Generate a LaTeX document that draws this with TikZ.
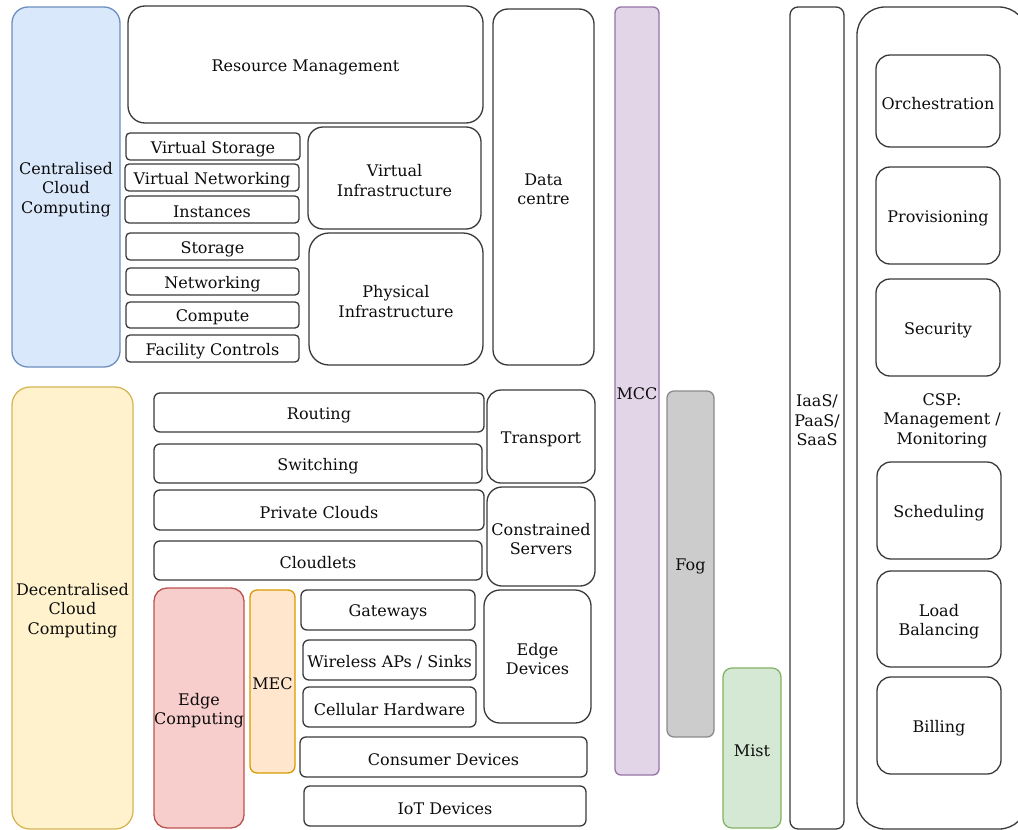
\documentclass[tikz,border=0pt]{standalone}
\usepackage{fontspec}
\setmainfont{DejaVu Serif}
\definecolor{edgegray}{HTML}{3A3A3A}
\definecolor{bluefill}{HTML}{DAE8FC}\definecolor{bluestroke}{HTML}{6C8EBF}
\definecolor{yelfill}{HTML}{FFF2CC}\definecolor{yelstroke}{HTML}{D6B656}
\definecolor{redfill}{HTML}{F8CECC}\definecolor{redstroke}{HTML}{B85450}
\definecolor{orfill}{HTML}{FFE6CC}\definecolor{orstroke}{HTML}{D79B00}
\definecolor{purfill}{HTML}{E1D5E7}\definecolor{purstroke}{HTML}{9673A6}
\definecolor{grnfill}{HTML}{D5E8D4}\definecolor{grnstroke}{HTML}{82B366}
\definecolor{gryfill}{HTML}{CCCCCC}\definecolor{grystroke}{HTML}{8A8A8A}
\tikzset{
  plainbox/.style={draw=edgegray, fill=white, line width=1.3pt},
  bluebox/.style={draw=bluestroke, fill=bluefill, line width=1.3pt},
  yelbox/.style={draw=yelstroke, fill=yelfill, line width=1.3pt},
  redbox/.style={draw=redstroke, fill=redfill, line width=1.3pt},
  orbox/.style={draw=orstroke, fill=orfill, line width=1.3pt},
  purbox/.style={draw=purstroke, fill=purfill, line width=1.3pt},
  grnbox/.style={draw=grnstroke, fill=grnfill, line width=1.3pt},
  grybox/.style={draw=grystroke, fill=gryfill, line width=1.3pt},
  txt/.style={inner sep=0pt, align=center, yshift=-2.5pt, text=black!95, font=\fontsize{16}{19.5}\selectfont}
}
% name, x1, y1, x2, y2, style, radius, text
\newcommand\bx[8]{%
  \draw[#6, rounded corners=#7pt] (#2,#3) rectangle (#4,#5);
  \node[txt] (#1) at ({(#2+#4)/2},{(#3+#5)/2}) {#8};
}
\begin{document}
\begin{tikzpicture}[x=1pt,y=-1pt]
\useasboundingbox (0,0) rectangle (1018,830);
% Centralised
\bx{ccc}{12}{7}{120}{367}{bluebox}{16}{Centralised\\Cloud\\Computing}
\bx{rm}{128}{6}{483}{123}{plainbox}{17}{Resource Management}
\bx{vs}{126}{133}{300}{160}{plainbox}{4}{Virtual Storage}
\bx{vn}{125}{164}{299}{191}{plainbox}{4}{Virtual Networking}
\bx{inst}{125}{196}{299}{223}{plainbox}{4}{Instances}
\bx{stor}{126}{233}{299}{260}{plainbox}{4}{Storage}
\bx{netw}{126}{268}{299}{295}{plainbox}{4}{Networking}
\bx{comp}{126}{302}{299}{328}{plainbox}{4}{Compute}
\bx{fac}{126}{335}{299}{362}{plainbox}{4}{Facility Controls}
\bx{vi}{308}{127}{481}{229}{plainbox}{15}{Virtual\\Infrastructure}
\bx{pi}{309}{233}{483}{365}{plainbox}{20}{Physical\\Infrastructure}
\bx{dc}{493}{9}{594}{365}{plainbox}{15}{Data\\centre}
% Columns
\bx{mcc}{615}{7}{659}{775}{purbox}{6}{MCC}
\bx{fog}{667}{391}{714}{737}{grybox}{7}{Fog}
\bx{mist}{723}{668}{781}{828}{grnbox}{9}{Mist}
\bx{iaas}{790}{7}{844}{829}{plainbox}{8}{IaaS/\\PaaS/\\SaaS}
\bx{csp}{857}{7}{1027}{829}{plainbox}{28}{CSP:\\Management /\\Monitoring}
\bx{orch}{876}{55}{1000}{147}{plainbox}{14}{Orchestration}
\bx{prov}{876}{167}{1000}{264}{plainbox}{14}{Provisioning}
\bx{sec}{876}{279}{1000}{376}{plainbox}{14}{Security}
\bx{sched}{877}{462}{1001}{559}{plainbox}{14}{Scheduling}
\bx{lb}{877}{571}{1001}{667}{plainbox}{14}{Load\\Balancing}
\bx{bill}{877}{677}{1001}{774}{plainbox}{14}{Billing}
% Decentralised
\bx{dcc}{12}{387}{133}{829}{yelbox}{18}{Decentralised\\Cloud\\Computing}
\bx{rout}{154}{393}{484}{432}{plainbox}{6}{Routing}
\bx{swit}{154}{444}{482}{483}{plainbox}{6}{Switching}
\bx{priv}{154}{490}{484}{530}{plainbox}{6}{Private Clouds}
\bx{clet}{154}{541}{482}{580}{plainbox}{6}{Cloudlets}
\bx{trans}{487}{390}{595}{483}{plainbox}{14}{Transport}
\bx{cons}{487}{487}{595}{586}{plainbox}{15}{Constrained\\Servers}
\bx{ec}{154}{588}{244}{828}{redbox}{13}{Edge\\Computing}
\bx{mec}{250}{590}{295}{773}{orbox}{7}{MEC}
\bx{gw}{301}{590}{475}{630}{plainbox}{6}{Gateways}
\bx{wap}{303}{640}{476}{680}{plainbox}{6}{Wireless APs / Sinks}
\bx{cell}{303}{687}{476}{727}{plainbox}{6}{Cellular Hardware}
\bx{ed}{484}{590}{591}{723}{plainbox}{16}{Edge\\Devices}
\bx{cd}{300}{737}{587}{777}{plainbox}{6}{Consumer Devices}
\bx{iot}{304}{786}{586}{826}{plainbox}{6}{IoT Devices}
\end{tikzpicture}
\end{document}
